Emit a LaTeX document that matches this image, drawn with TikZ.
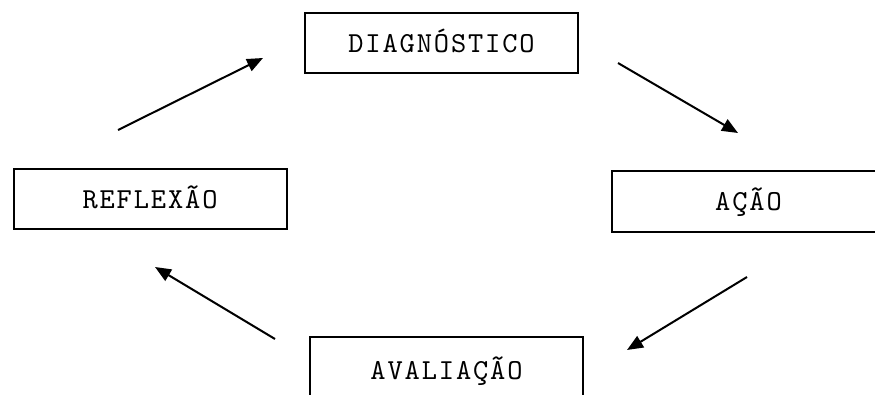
\documentclass[tikz,border=0pt]{standalone}
\usepackage{fontspec}
\setmonofont{lmmono10-regular.otf}[LetterSpace=6.5]
\usetikzlibrary{arrows.meta}
\begin{document}
\begin{tikzpicture}[x=1pt, y=-1pt, >={Triangle[length=16pt, width=13pt]}, line width=2pt,
        every node/.style={draw, rectangle, minimum width=273pt, inner sep=0pt, text height=18pt, text depth=0pt,
        font=\ttfamily\fontsize{29}{33}\selectfont}]
        \useasboundingbox (0,0) rectangle (875,394);

        \node[minimum height=60pt] (D) at (441.5,43) {DIAGNÓSTICO};
        \node[minimum height=61pt] (A) at (748.5,201.5) {AÇÃO};
        \node[minimum height=66pt] (V) at (446.5,370) {AVALIAÇÃO};
        \node[minimum height=60pt] (R) at (150,199) {REFLEXÃO};

        \coordinate (E) at (118,130);
        \coordinate (F) at (263,58);
        \coordinate (G) at (618,63);
        \coordinate (H) at (738,133);
        \coordinate (I) at (747,277);
        \coordinate (J) at (627,350);
        \coordinate (K) at (275,339);
        \coordinate (L) at (155,267);

        \draw (E) -- (F)[->];
        \draw (G) -- (H)[->];
        \draw (I) -- (J)[->];
        \draw (K) -- (L)[->];
    \end{tikzpicture}
\end{document}
